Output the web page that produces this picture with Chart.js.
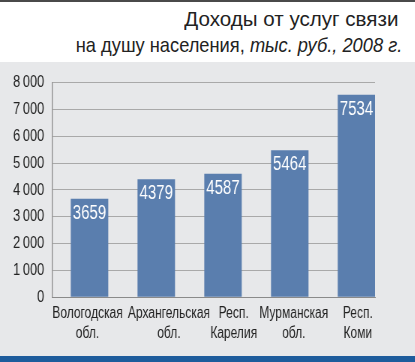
<!DOCTYPE html>
<html>
<head>
<meta charset="utf-8">
<script src="https://cdn.jsdelivr.net/npm/chart.js@4"></script>
<style>
  html, body { margin: 0; padding: 0; }
  body { width: 415px; height: 362px; position: relative; overflow: hidden; background: #fff;
         font-family: "Liberation Sans", Arial, sans-serif; }
  #topline { position: absolute; left: 0; top: 0; width: 415px; height: 2px; background: #4a4a4a; }
  .title { position: absolute; color: #222; font-size: 21px; line-height: 26px; white-space: nowrap;
           transform-origin: 100% 0; }
  #t1 { right: 17px; top: 6px; transform: scaleX(0.98); }
  #t2 { right: 13px; top: 32px; transform: scaleX(0.87); }
  .title i { font-style: italic; }
  #panel { position: absolute; left: 0; top: 62px; width: 415px; height: 294px; background: #e7e8ea; overflow: hidden; }
  #wrap { width: 553px; height: 294px; transform: scaleX(0.75); transform-origin: 0 0; }
  #bottom { position: absolute; left: 0; top: 356px; width: 415px; height: 6px; background: #1d5c9c; }
</style>
</head>
<body>
<div id="topline"></div>
<div class="title" id="t1">Доходы от услуг связи</div>
<div class="title" id="t2">на душу населения, <i>тыс. руб., 2008 г.</i></div>
<div id="panel"><div id="wrap"><canvas id="chart" width="553" height="294"></canvas></div></div>
<div id="bottom"></div>
<script>
const FONT = '"Liberation Sans", Arial, sans-serif';

// data
const REGIONS = [
  ["Вологодская", "обл."],
  ["Архангельская", "обл."],
  ["Респ.", "Карелия"],
  ["Мурманская", "обл."],
  ["Респ.", "Коми"],
];
const INCOME = [3659, 4379, 4587, 5464, 7534];
const Y_TICKS = [0, 1000, 2000, 3000, 4000, 5000, 6000, 7000, 8000];

const BAR_COLOR = "#5a7eae";

// canvas is drawn wide then squeezed to 0.75 (condensed type)
const SX = 0.75;
// small sideways shift of the long labels (in category units) so they don't collide
const LABEL_NUDGE = [-0.03, 0.19, 0.16, 0.06, 0.02];

// valeurs en blanc en haut des barres
const valueLabels = {
  id: "valueLabels",
  afterDatasetsDraw(chart) {
    const ctx = chart.ctx;
    const meta = chart.getDatasetMeta(0);
    ctx.save();
    ctx.fillStyle = "#fff";
    ctx.font = "20px " + FONT;
    ctx.textAlign = "center";
    ctx.textBaseline = "top";
    meta.data.forEach((bar, i) => {
      ctx.fillText(String(INCOME[i]), bar.x, bar.y + 4);
    });
    ctx.restore();
  },
};

let points = INCOME.map((v, i) => ({ x: i, y: v }));

let ctx = document.getElementById("chart").getContext("2d");

let myChart = new Chart(ctx, {
  type: "bar",
  data: {
    datasets: [
      {
        data: points,
        backgroundColor: BAR_COLOR,
        barThickness: 37 / SX,
      },
    ],
  },
  options: {
    responsive: false,
    animation: false,
    events: [],
    layout: { padding: { top: 19, right: 553 - 375 / SX, left: 0, bottom: 0 } },
    plugins: {
      legend: { display: false },
      tooltip: { enabled: false },
    },
    scales: {
      x: {
        type: "linear",
        offset: false,
        min: -0.562,
        max: 4.277,
        afterBuildTicks: (scale) => {
          scale.ticks = REGIONS.map((r, i) => ({ value: i + LABEL_NUDGE[i] }));
        },
        afterFit: (scale) => {
          scale.height = 59;
        },
        grid: { display: false, drawTicks: false },
        border: { display: true, color: "#8a8a8a", width: 1 },
        ticks: {
          autoSkip: false,
          maxRotation: 0,
          padding: 7,
          color: "#222",
          font: { family: FONT, size: 16, lineHeight: 1.25 },
          callback: (v, i) => REGIONS[i],
        },
      },
      y: {
        min: 0,
        max: 8000,
        afterBuildTicks: (scale) => {
          scale.ticks = Y_TICKS.map((v) => ({ value: v }));
        },
        afterFit: (scale) => {
          scale.width = 52 / SX;
        },
        grid: { color: "#a9a9a9", lineWidth: 1, drawTicks: false },
        border: { display: true, color: "#8a8a8a", width: 1.33 },
        ticks: {
          padding: 10.5,
          color: "#222",
          font: { family: FONT, size: 17 },
          callback: (v) => (v >= 1000 ? String(v).replace(/(\d)(\d{3})$/, "$1\u2009$2") : String(v)),
        },
      },
    },
  },
  plugins: [valueLabels],
});
</script>
</body>
</html>
